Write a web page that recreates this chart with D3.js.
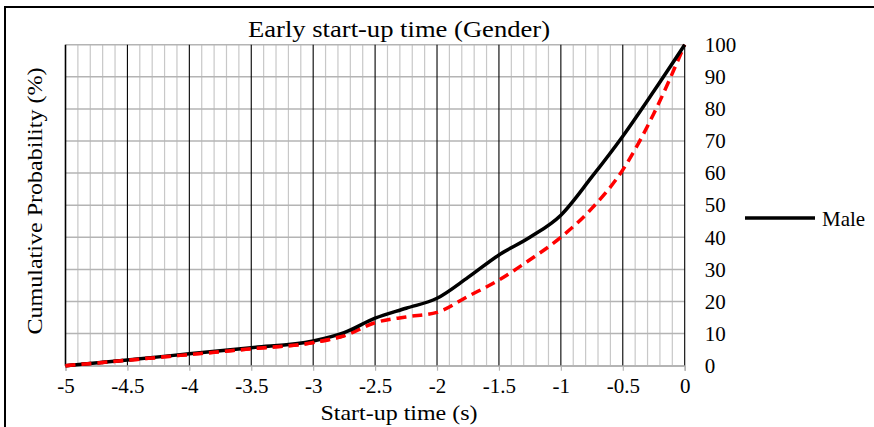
<!DOCTYPE html>
<html>
<head>
<meta charset="utf-8">
<script src="https://cdn.jsdelivr.net/npm/d3@7"></script>
<style>
  html, body { margin: 0; padding: 0; background: #fff; }
  svg { display: block; }
  text { font-family: "Times New Roman", "Liberation Serif", Tinos, Times, serif; fill: #000; }
</style>
</head>
<body>
<svg id="chart" width="874" height="427"></svg>
<script>
// ---- data ----
const title = "Early start-up time (Gender)";
const xTitle = "Start-up time (s)";
const yTitle = "Cumulative Probability (%)";
const xValues = [-5, -4.5, -4, -3.5, -3, -2.75, -2.5, -2.25, -2, -1.75, -1.5, -1.25, -1, -0.75, -0.5, -0.25, 0];
const maleValues = [0, 1.8, 3.7, 5.6, 7.7, 10.3, 14.8, 17.9, 21, 27.5, 34.5, 40.0, 46.9, 58.8, 71.5, 85.5, 100];
const femaleValues = [0, 1.7, 3.5, 5.3, 7.2, 9.3, 13.4, 15.2, 16.6, 21.6, 26.7, 33.0, 40.0, 49.0, 61.0, 78.5, 100];
const xTicks = [-5, -4.5, -4, -3.5, -3, -2.5, -2, -1.5, -1, -0.5, 0];
const yTicks = [0, 10, 20, 30, 40, 50, 60, 70, 80, 90, 100];
const seriesNames = ["Male", "Female"];

// ---- layout ----
const svg = d3.select("#chart");
const pLeft = 65.5, pRight = 684.7, pTop = 44.7, pBottom = 365.7;
const x = d3.scaleLinear().domain([-5, 0]).range([pLeft, pRight]);
const y = d3.scaleLinear().domain([0, 100]).range([pBottom, pTop]);

// outer border
svg.append("rect").attr("x", 5).attr("y", 7).attr("width", 880).attr("height", 440)
  .attr("fill", "none").attr("stroke", "#000").attr("stroke-width", 2);

// minor vertical grid (every 0.1)
const minor = d3.range(-50, 1).map(d => d / 10).filter(d => Math.abs(d * 2 - Math.round(d * 2)) > 1e-6);
svg.append("g").selectAll("line").data(minor).join("line")
  .attr("x1", d => x(d)).attr("x2", d => x(d)).attr("y1", pTop).attr("y2", pBottom)
  .attr("stroke", "#c8c8c8").attr("stroke-width", 1.2);

// horizontal grid
svg.append("g").selectAll("line").data(yTicks).join("line")
  .attr("x1", pLeft).attr("x2", pRight).attr("y1", d => y(d)).attr("y2", d => y(d))
  .attr("stroke", "#b4b4b4").attr("stroke-width", 1.5);

// major vertical grid
svg.append("g").selectAll("line").data(xTicks).join("line")
  .attr("x1", d => x(d)).attr("x2", d => x(d)).attr("y1", pTop).attr("y2", pBottom)
  .attr("stroke", "#000").attr("stroke-width", d => d === -5 ? 1.6 : 1.1);

// x axis via d3 axis
const xAxis = d3.axisBottom(x).tickValues(xTicks).tickSize(5).tickPadding(7)
  .tickFormat(d => String(d));
const gx = svg.append("g").attr("transform", `translate(0,${pBottom})`).call(xAxis);
gx.attr("font-family", null);
gx.select(".domain").attr("stroke", "#b4b4b4").attr("stroke-width", 1.5);
gx.selectAll(".tick line").attr("stroke", "#b4b4b4").attr("stroke-width", 1.2);
gx.selectAll(".tick text").attr("font-size", 21).attr("fill", "#000");

// y axis on right, labels only
const yAxis = d3.axisRight(y).tickValues(yTicks).tickSize(0).tickPadding(20).tickFormat(d3.format("d"));
const gy = svg.append("g").attr("transform", `translate(${pRight},0)`).call(yAxis);
gy.attr("font-family", null);
gy.select(".domain").remove();
gy.selectAll(".tick text").attr("font-size", 21).attr("fill", "#000");

// lines
const line = d3.line().x(d => x(d[0])).y(d => y(d[1])).curve(d3.curveMonotoneX);
svg.append("path").datum(xValues.map((v, i) => [v, femaleValues[i]]))
  .attr("d", line).attr("fill", "none").attr("stroke", "#ff0000")
  .attr("stroke-width", 3.5).attr("stroke-dasharray", "10,6");
svg.append("path").datum(xValues.map((v, i) => [v, maleValues[i]]))
  .attr("d", line).attr("fill", "none").attr("stroke", "#000")
  .attr("stroke-width", 3.5);
// redraw female over male on the overlapping start so dashes visible
svg.append("path").datum(xValues.slice(0, 6).map((v, i) => [v, femaleValues[i]]))
  .attr("d", line).attr("fill", "none").attr("stroke", "#ff0000")
  .attr("stroke-width", 3.5).attr("stroke-dasharray", "10,6");

// title
svg.append("text").attr("x", 399).attr("y", 37).attr("text-anchor", "middle")
  .attr("font-size", 24).attr("textLength", 302).attr("lengthAdjust", "spacingAndGlyphs").text(title);
// x title
svg.append("text").attr("x", 399).attr("y", 420).attr("text-anchor", "middle")
  .attr("font-size", 21).attr("textLength", 157).attr("lengthAdjust", "spacingAndGlyphs").text(xTitle);
// y title
svg.append("text").attr("transform", "translate(42,201) rotate(-90)").attr("text-anchor", "middle")
  .attr("font-size", 22).attr("textLength", 267).attr("lengthAdjust", "spacingAndGlyphs").text(yTitle);

// legend
svg.append("line").attr("x1", 745).attr("x2", 815).attr("y1", 218).attr("y2", 218)
  .attr("stroke", "#000").attr("stroke-width", 3.5);
svg.append("text").attr("x", 822).attr("y", 226).attr("font-size", 21).text(seriesNames[0]);
</script>
</body>
</html>
